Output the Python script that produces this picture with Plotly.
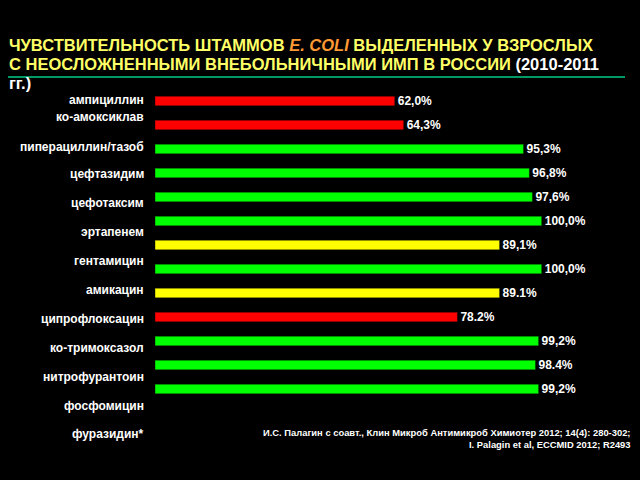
import plotly.graph_objects as go

drugs = ["ампициллин", "ко-амоксиклав", "пиперациллин/тазоб", "цефтазидим",
         "цефотаксим", "эртапенем", "гентамицин", "амикацин", "ципрофлоксацин",
         "ко-тримоксазол", "нитрофурантоин", "фосфомицин", "фуразидин*"]
values = [62.0, 64.3, 95.3, 96.8, 97.6, 100.0, 89.1, 100.0, 89.1, 78.2, 99.2, 98.4, 99.2]
value_labels = ["62,0%", "64,3%", "95,3%", "96,8%", "97,6%", "100,0%", "89,1%",
                "100,0%", "89.1%", "78.2%", "99,2%", "98.4%", "99,2%"]
bar_colors = ["#FF0000", "#FF0000", "#00FF00", "#00FF00", "#00FF00", "#00FF00", "#FFFF00",
              "#00FF00", "#FFFF00", "#FF0000", "#00FF00", "#00FF00", "#00FF00"]
# vertical pixel positions of the drug-name labels (as in the slide, not aligned to bars)
label_y_px = [100, 117, 147, 174, 203, 232, 261, 290, 319, 348, 377, 406, 434]

W, H = 640, 480
L, R, T, B = 155, 10, 88.5, 79.3
pw, ph = W - L - R, H - T - B


def px(x):
    return (x - L) / pw


def py(y):
    return 1 - (y - T) / ph


fig = go.Figure()
fig.add_trace(go.Bar(
    x=values, y=list(range(len(values))), orientation="h",
    marker=dict(color=bar_colors, line=dict(width=0.6, color="rgba(0,0,0,0.6)")),
    width=0.4,
    text=value_labels, texttemplate="<b>%{text}</b>", textposition="outside",
    constraintext="none",
    textfont=dict(color="white", size=12, family="Liberation Sans"),
    cliponaxis=False, hoverinfo="skip",
))

ann = []
for name, yp in zip(drugs, label_y_px):
    ann.append(dict(xref="paper", yref="paper", x=px(146), y=py(yp),
                    xanchor="right", yanchor="middle", showarrow=False,
                    text="<b>" + name + "</b>",
                    font=dict(color="white", size=12, family="Liberation Sans")))

yel = "#FFFF66"
org = "#FF9933"
title_font = dict(size=16.5, family="Liberation Sans")
ann.append(dict(xref="paper", yref="paper", x=px(7), y=py(44), xanchor="left", yanchor="middle",
                showarrow=False, font=title_font,
                text=f"<b><span style='color:{yel}'>ЧУВСТВИТЕЛЬНОСТЬ ШТАММОВ </span>"
                     f"<i><span style='color:{org}'>E. COLI</span></i>"
                     f"<span style='color:{yel}'> ВЫДЕЛЕННЫХ У ВЗРОСЛЫХ</span></b>"))
ann.append(dict(xref="paper", yref="paper", x=px(7), y=py(63), xanchor="left", yanchor="middle",
                showarrow=False, font=title_font,
                text=f"<b><span style='color:{yel}'>С НЕОСЛОЖНЕННЫМИ ВНЕБОЛЬНИЧНЫМИ ИМП В РОССИИ </span>"
                     f"<span style='color:white'>(2010-2011</span></b>"))
ann.append(dict(xref="paper", yref="paper", x=px(7), y=py(82), xanchor="left", yanchor="middle",
                showarrow=False, font=dict(size=16.5, family="Liberation Sans", color="white"),
                text="<b>гг.)</b>"))

cite_font = dict(size=9.4, family="Liberation Sans", color="white")
ann.append(dict(xref="paper", yref="paper", x=px(633), y=py(432), xanchor="right", yanchor="middle",
                showarrow=False, font=cite_font,
                text="<b>И.С. Палагин с соавт., Клин Микроб Антимикроб Химиотер 2012; 14(4): 280-302;</b>"))
ann.append(dict(xref="paper", yref="paper", x=px(633), y=py(444), xanchor="right", yanchor="middle",
                showarrow=False, font=cite_font,
                text="<b>I. Palagin et al, ECCMID 2012; R2493</b>"))

fig.update_layout(
    width=W, height=H,
    margin=dict(l=L, r=R, t=T, b=B),
    paper_bgcolor="black", plot_bgcolor="black",
    showlegend=False,
    annotations=ann,
    shapes=[dict(type="line", xref="paper", yref="paper", x0=px(8), x1=px(625),
                 y0=py(76.5), y1=py(76.5), line=dict(color="#009966", width=2))],
    xaxis=dict(range=[0, pw / 3.867], visible=False, fixedrange=True),
    yaxis=dict(range=[len(values) - 0.5, -0.5], visible=False, fixedrange=True),
)

fig.write_html("out.html", config={"displayModeBar": False})
